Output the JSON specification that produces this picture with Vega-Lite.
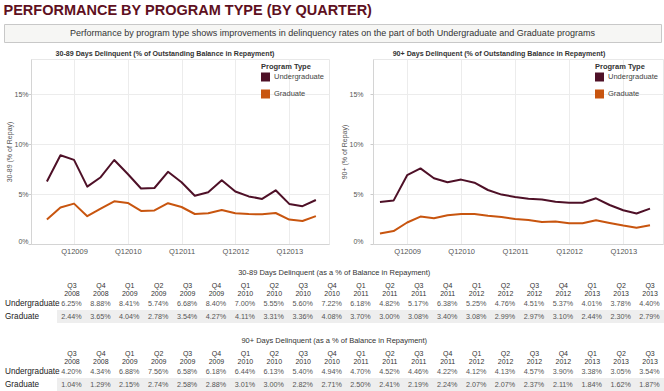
{
 "$schema": "https://vega.github.io/schema/vega-lite/v6.json",
 "padding": {"left": 3, "top": 3, "right": 0, "bottom": 0},
 "background": "white",
 "title": {"text": "PERFORMANCE BY PROGRAM TYPE (BY QUARTER)", "anchor": "start", "fontSize": 14.5, "fontWeight": "bold", "color": "#5e1021", "offset": 5},
 "datasets": {
  "d": [
   {"m":"30-89","p":"Undergraduate","d":"2008-07-01","q":"Q3 2008","v":0.0625},
   {"m":"30-89","p":"Undergraduate","d":"2008-10-01","q":"Q4 2008","v":0.0888},
   {"m":"30-89","p":"Undergraduate","d":"2009-01-01","q":"Q1 2009","v":0.0841},
   {"m":"30-89","p":"Undergraduate","d":"2009-04-01","q":"Q2 2009","v":0.0574},
   {"m":"30-89","p":"Undergraduate","d":"2009-07-01","q":"Q3 2009","v":0.0668},
   {"m":"30-89","p":"Undergraduate","d":"2009-10-01","q":"Q4 2009","v":0.0840},
   {"m":"30-89","p":"Undergraduate","d":"2010-01-01","q":"Q1 2010","v":0.0700},
   {"m":"30-89","p":"Undergraduate","d":"2010-04-01","q":"Q2 2010","v":0.0555},
   {"m":"30-89","p":"Undergraduate","d":"2010-07-01","q":"Q3 2010","v":0.0560},
   {"m":"30-89","p":"Undergraduate","d":"2010-10-01","q":"Q4 2010","v":0.0722},
   {"m":"30-89","p":"Undergraduate","d":"2011-01-01","q":"Q1 2011","v":0.0618},
   {"m":"30-89","p":"Undergraduate","d":"2011-04-01","q":"Q2 2011","v":0.0482},
   {"m":"30-89","p":"Undergraduate","d":"2011-07-01","q":"Q3 2011","v":0.0517},
   {"m":"30-89","p":"Undergraduate","d":"2011-10-01","q":"Q4 2011","v":0.0638},
   {"m":"30-89","p":"Undergraduate","d":"2012-01-01","q":"Q1 2012","v":0.0525},
   {"m":"30-89","p":"Undergraduate","d":"2012-04-01","q":"Q2 2012","v":0.0476},
   {"m":"30-89","p":"Undergraduate","d":"2012-07-01","q":"Q3 2012","v":0.0451},
   {"m":"30-89","p":"Undergraduate","d":"2012-10-01","q":"Q4 2012","v":0.0537},
   {"m":"30-89","p":"Undergraduate","d":"2013-01-01","q":"Q1 2013","v":0.0401},
   {"m":"30-89","p":"Undergraduate","d":"2013-04-01","q":"Q2 2013","v":0.0378},
   {"m":"30-89","p":"Undergraduate","d":"2013-07-01","q":"Q3 2013","v":0.0440},
   {"m":"30-89","p":"Graduate","d":"2008-07-01","q":"Q3 2008","v":0.0244},
   {"m":"30-89","p":"Graduate","d":"2008-10-01","q":"Q4 2008","v":0.0365},
   {"m":"30-89","p":"Graduate","d":"2009-01-01","q":"Q1 2009","v":0.0404},
   {"m":"30-89","p":"Graduate","d":"2009-04-01","q":"Q2 2009","v":0.0278},
   {"m":"30-89","p":"Graduate","d":"2009-07-01","q":"Q3 2009","v":0.0354},
   {"m":"30-89","p":"Graduate","d":"2009-10-01","q":"Q4 2009","v":0.0427},
   {"m":"30-89","p":"Graduate","d":"2010-01-01","q":"Q1 2010","v":0.0411},
   {"m":"30-89","p":"Graduate","d":"2010-04-01","q":"Q2 2010","v":0.0331},
   {"m":"30-89","p":"Graduate","d":"2010-07-01","q":"Q3 2010","v":0.0336},
   {"m":"30-89","p":"Graduate","d":"2010-10-01","q":"Q4 2010","v":0.0408},
   {"m":"30-89","p":"Graduate","d":"2011-01-01","q":"Q1 2011","v":0.0370},
   {"m":"30-89","p":"Graduate","d":"2011-04-01","q":"Q2 2011","v":0.0300},
   {"m":"30-89","p":"Graduate","d":"2011-07-01","q":"Q3 2011","v":0.0308},
   {"m":"30-89","p":"Graduate","d":"2011-10-01","q":"Q4 2011","v":0.0340},
   {"m":"30-89","p":"Graduate","d":"2012-01-01","q":"Q1 2012","v":0.0308},
   {"m":"30-89","p":"Graduate","d":"2012-04-01","q":"Q2 2012","v":0.0299},
   {"m":"30-89","p":"Graduate","d":"2012-07-01","q":"Q3 2012","v":0.0297},
   {"m":"30-89","p":"Graduate","d":"2012-10-01","q":"Q4 2012","v":0.0310},
   {"m":"30-89","p":"Graduate","d":"2013-01-01","q":"Q1 2013","v":0.0244},
   {"m":"30-89","p":"Graduate","d":"2013-04-01","q":"Q2 2013","v":0.0230},
   {"m":"30-89","p":"Graduate","d":"2013-07-01","q":"Q3 2013","v":0.0279},
   {"m":"90+","p":"Undergraduate","d":"2008-07-01","q":"Q3 2008","v":0.0420},
   {"m":"90+","p":"Undergraduate","d":"2008-10-01","q":"Q4 2008","v":0.0434},
   {"m":"90+","p":"Undergraduate","d":"2009-01-01","q":"Q1 2009","v":0.0688},
   {"m":"90+","p":"Undergraduate","d":"2009-04-01","q":"Q2 2009","v":0.0756},
   {"m":"90+","p":"Undergraduate","d":"2009-07-01","q":"Q3 2009","v":0.0658},
   {"m":"90+","p":"Undergraduate","d":"2009-10-01","q":"Q4 2009","v":0.0618},
   {"m":"90+","p":"Undergraduate","d":"2010-01-01","q":"Q1 2010","v":0.0644},
   {"m":"90+","p":"Undergraduate","d":"2010-04-01","q":"Q2 2010","v":0.0613},
   {"m":"90+","p":"Undergraduate","d":"2010-07-01","q":"Q3 2010","v":0.0540},
   {"m":"90+","p":"Undergraduate","d":"2010-10-01","q":"Q4 2010","v":0.0494},
   {"m":"90+","p":"Undergraduate","d":"2011-01-01","q":"Q1 2011","v":0.0470},
   {"m":"90+","p":"Undergraduate","d":"2011-04-01","q":"Q2 2011","v":0.0452},
   {"m":"90+","p":"Undergraduate","d":"2011-07-01","q":"Q3 2011","v":0.0446},
   {"m":"90+","p":"Undergraduate","d":"2011-10-01","q":"Q4 2011","v":0.0422},
   {"m":"90+","p":"Undergraduate","d":"2012-01-01","q":"Q1 2012","v":0.0412},
   {"m":"90+","p":"Undergraduate","d":"2012-04-01","q":"Q2 2012","v":0.0413},
   {"m":"90+","p":"Undergraduate","d":"2012-07-01","q":"Q3 2012","v":0.0457},
   {"m":"90+","p":"Undergraduate","d":"2012-10-01","q":"Q4 2012","v":0.0390},
   {"m":"90+","p":"Undergraduate","d":"2013-01-01","q":"Q1 2013","v":0.0338},
   {"m":"90+","p":"Undergraduate","d":"2013-04-01","q":"Q2 2013","v":0.0305},
   {"m":"90+","p":"Undergraduate","d":"2013-07-01","q":"Q3 2013","v":0.0354},
   {"m":"90+","p":"Graduate","d":"2008-07-01","q":"Q3 2008","v":0.0104},
   {"m":"90+","p":"Graduate","d":"2008-10-01","q":"Q4 2008","v":0.0129},
   {"m":"90+","p":"Graduate","d":"2009-01-01","q":"Q1 2009","v":0.0215},
   {"m":"90+","p":"Graduate","d":"2009-04-01","q":"Q2 2009","v":0.0274},
   {"m":"90+","p":"Graduate","d":"2009-07-01","q":"Q3 2009","v":0.0258},
   {"m":"90+","p":"Graduate","d":"2009-10-01","q":"Q4 2009","v":0.0288},
   {"m":"90+","p":"Graduate","d":"2010-01-01","q":"Q1 2010","v":0.0301},
   {"m":"90+","p":"Graduate","d":"2010-04-01","q":"Q2 2010","v":0.0300},
   {"m":"90+","p":"Graduate","d":"2010-07-01","q":"Q3 2010","v":0.0282},
   {"m":"90+","p":"Graduate","d":"2010-10-01","q":"Q4 2010","v":0.0271},
   {"m":"90+","p":"Graduate","d":"2011-01-01","q":"Q1 2011","v":0.0250},
   {"m":"90+","p":"Graduate","d":"2011-04-01","q":"Q2 2011","v":0.0241},
   {"m":"90+","p":"Graduate","d":"2011-07-01","q":"Q3 2011","v":0.0219},
   {"m":"90+","p":"Graduate","d":"2011-10-01","q":"Q4 2011","v":0.0224},
   {"m":"90+","p":"Graduate","d":"2012-01-01","q":"Q1 2012","v":0.0207},
   {"m":"90+","p":"Graduate","d":"2012-04-01","q":"Q2 2012","v":0.0207},
   {"m":"90+","p":"Graduate","d":"2012-07-01","q":"Q3 2012","v":0.0237},
   {"m":"90+","p":"Graduate","d":"2012-10-01","q":"Q4 2012","v":0.0211},
   {"m":"90+","p":"Graduate","d":"2013-01-01","q":"Q1 2013","v":0.0184},
   {"m":"90+","p":"Graduate","d":"2013-04-01","q":"Q2 2013","v":0.0162},
   {"m":"90+","p":"Graduate","d":"2013-07-01","q":"Q3 2013","v":0.0187}
  ]
 },
 "spacing": 6,
 "resolve": {"scale": {"x": "independent", "y": "independent", "color": "independent"}, "legend": {"color": "independent"}},
 "vconcat": [
  {
   "width": 657, "height": 18,
   "view": {"fill": "#f6f6f4", "stroke": "#c8c8c8"},
   "data": {"values": [{"t": "Performance by program type shows improvements in delinquency rates on the part of both Undergraduate and Graduate programs"}]},
   "mark": {"type": "text", "fontSize": 9, "color": "#333"},
   "encoding": {"text": {"field": "t", "type": "nominal"}}
  },
  {
   "spacing": 14,
   "resolve": {"scale": {"x": "independent", "y": "independent", "color": "independent"}, "legend": {"color": "independent"}},
   "vconcat": [
    {
     "spacing": 0,
     "resolve": {"scale": {"x": "independent", "y": "independent", "color": "independent"}, "legend": {"color": "independent"}},
     "hconcat": [
      {"width": 1, "height": 1, "data": {"values": [{}]}, "mark": {"type": "point", "size": 0, "opacity": 0}},
      {
       "spacing": 10,
       "resolve": {"scale": {"x": "independent", "y": "independent", "color": "independent"}, "legend": {"color": "independent"}},
       "hconcat": [
        {
         "width": 298, "height": 185,
         "data": {"name": "d"},
         "transform": [{"filter": "datum.m == '30-89'"}],
         "title": {"text": "30-89 Days Delinquent (% of Outstanding Balance in Repayment)", "anchor": "middle", "dx": -15, "fontSize": 7.1, "fontWeight": "bold", "color": "#333", "offset": 2},
         "view": {"stroke": "#e8e8e8"},
         "mark": {"type": "line", "strokeWidth": 2, "strokeJoin": "round"},
         "encoding": {
          "x": {"field": "d", "type": "temporal", "title": null,
           "scale": {"type": "utc", "domain": [{"year": 2008, "month": 3, "date": 15, "utc": true}, {"year": 2013, "month": 9, "date": 28, "utc": true}]},
           "axis": {"values": [{"year": 2009, "month": 1, "date": 1, "utc": true}, {"year": 2010, "month": 1, "date": 1, "utc": true}, {"year": 2011, "month": 1, "date": 1, "utc": true}, {"year": 2012, "month": 1, "date": 1, "utc": true}, {"year": 2013, "month": 1, "date": 1, "utc": true}],
            "labelExpr": "'Q1' + utcFormat(datum.value, '%Y')", "ticks": false, "grid": true, "gridColor": "#ececec", "domainColor": "#d4d4d4", "labelFontSize": 7.5, "labelColor": "#555", "labelPadding": 3, "labelFlush": false}},
          "y": {"field": "v", "type": "quantitative", "title": "30-89 (% of Repay)",
           "scale": {"domain": [0, 0.185], "nice": false},
           "axis": {"values": [0, 0.05, 0.1, 0.15], "format": ".0%", "labelFlush": true, "titleFontSize": 7, "titleFontWeight": "normal", "titleColor": "#555", "titlePadding": 1, "labelFontSize": 7, "labelColor": "#555", "labelPadding": 0, "tickSize": 3, "tickColor": "#cccccc", "domainColor": "#d4d4d4", "gridColor": "#ececec"}},
          "color": {"field": "p", "type": "nominal", "scale": {"domain": ["Undergraduate", "Graduate"], "range": ["#4e1027", "#c8550f"]},
           "legend": {"title": "Program Type", "orient": "top-right", "offset": 4, "padding": 0, "titleFontSize": 7.5, "titleFontWeight": "bold", "titleColor": "#333", "titlePadding": 2, "labelFontSize": 7.5, "labelColor": "#444", "symbolType": "square", "symbolSize": 16, "symbolStrokeWidth": 5, "rowPadding": -20, "labelOffset": 4}}
         }
        },
        {
         "width": 290, "height": 185,
         "data": {"name": "d"},
         "transform": [{"filter": "datum.m == '90+'"}],
         "title": {"text": "90+ Days Delinquent (% of Outstanding Balance in Repayment)", "anchor": "middle", "dx": -19, "fontSize": 7.1, "fontWeight": "bold", "color": "#333", "offset": 2},
         "view": {"stroke": "#e8e8e8"},
         "mark": {"type": "line", "strokeWidth": 2, "strokeJoin": "round"},
         "encoding": {
          "x": {"field": "d", "type": "temporal", "title": null,
           "scale": {"type": "utc", "domain": [{"year": 2008, "month": 5, "date": 15, "utc": true}, {"year": 2013, "month": 9, "date": 27, "utc": true}]},
           "axis": {"values": [{"year": 2009, "month": 1, "date": 1, "utc": true}, {"year": 2010, "month": 1, "date": 1, "utc": true}, {"year": 2011, "month": 1, "date": 1, "utc": true}, {"year": 2012, "month": 1, "date": 1, "utc": true}, {"year": 2013, "month": 1, "date": 1, "utc": true}],
            "labelExpr": "'Q1' + utcFormat(datum.value, '%Y')", "ticks": false, "grid": true, "gridColor": "#ececec", "domainColor": "#d4d4d4", "labelFontSize": 7.5, "labelColor": "#555", "labelPadding": 3, "labelFlush": false}},
          "y": {"field": "v", "type": "quantitative", "title": "90+ (% of Repay)",
           "scale": {"domain": [0, 0.185], "nice": false},
           "axis": {"values": [0, 0.05, 0.1, 0.15], "format": ".0%", "labelFlush": true, "titleFontSize": 7, "titleFontWeight": "normal", "titleColor": "#555", "titlePadding": 1, "labelFontSize": 7, "labelColor": "#555", "labelPadding": 7, "tickSize": 3, "tickColor": "#cccccc", "domainColor": "#d4d4d4", "gridColor": "#ececec"}},
          "color": {"field": "p", "type": "nominal", "scale": {"domain": ["Undergraduate", "Graduate"], "range": ["#4e1027", "#c8550f"]},
           "legend": {"title": "Program Type", "orient": "top-right", "offset": 4, "padding": 0, "titleFontSize": 7.5, "titleFontWeight": "bold", "titleColor": "#333", "titlePadding": 2, "labelFontSize": 7.5, "labelColor": "#444", "symbolType": "square", "symbolSize": 16, "symbolStrokeWidth": 5, "rowPadding": -20, "labelOffset": 4}}
         }
        }
       ]
      }
     ]
    },
    {
     "spacing": -1,
     "hconcat": [
      {"width": 1, "height": 1, "data": {"values": [{}]}, "mark": {"type": "point", "size": 0, "opacity": 0}},
      {
       "width": 607, "height": 26,
       "data": {"name": "d"},
       "transform": [{"filter": "datum.m == '30-89'"}],
       "title": {"text": "30-89 Days Delinquent (as a % of Balance in Repayment)", "frame": "bounds", "fontSize": 7.5, "fontWeight": "normal", "color": "#333", "offset": 5},
       "encoding": {
        "y": {"field": "p", "type": "nominal", "title": null,
         "scale": {"type": "band", "domain": ["Undergraduate", "Graduate"], "paddingInner": 0, "paddingOuter": 0},
         "axis": {"ticks": false, "domain": false, "labelAlign": "left", "labelPadding": 52.5, "labelFontSize": 8.2, "labelColor": "#222"}}
       },
       "layer": [
        {"transform": [{"filter": "datum.p == 'Graduate'"}], "mark": {"type": "rect", "color": "#eeeeee"}},
        {"mark": {"type": "text", "fontSize": 7.2, "color": "#555"},
         "encoding": {
          "x": {"field": "q", "type": "nominal", "sort": null, "title": null,
           "axis": {"orient": "top", "labelAngle": 0, "labelExpr": "split(datum.label, ' ')", "ticks": false, "domain": false, "labelFontSize": 7, "labelColor": "#333", "labelLineHeight": 7.5, "labelPadding": 8.5}},
          "text": {"field": "v", "type": "quantitative", "format": ".2%"}
         }}
       ]
      }
     ]
    },
    {
     "spacing": -1,
     "hconcat": [
      {"width": 1, "height": 1, "data": {"values": [{}]}, "mark": {"type": "point", "size": 0, "opacity": 0}},
      {
       "width": 607, "height": 26,
       "data": {"name": "d"},
       "transform": [{"filter": "datum.m == '90+'"}],
       "title": {"text": "90+ Days Delinquent (as a % of Balance in Repayment)", "frame": "bounds", "fontSize": 7.5, "fontWeight": "normal", "color": "#333", "offset": 5},
       "encoding": {
        "y": {"field": "p", "type": "nominal", "title": null,
         "scale": {"type": "band", "domain": ["Undergraduate", "Graduate"], "paddingInner": 0, "paddingOuter": 0},
         "axis": {"ticks": false, "domain": false, "labelAlign": "left", "labelPadding": 52.5, "labelFontSize": 8.2, "labelColor": "#222"}}
       },
       "layer": [
        {"transform": [{"filter": "datum.p == 'Graduate'"}], "mark": {"type": "rect", "color": "#eeeeee"}},
        {"mark": {"type": "text", "fontSize": 7.2, "color": "#555"},
         "encoding": {
          "x": {"field": "q", "type": "nominal", "sort": null, "title": null,
           "axis": {"orient": "top", "labelAngle": 0, "labelExpr": "split(datum.label, ' ')", "ticks": false, "domain": false, "labelFontSize": 7, "labelColor": "#333", "labelLineHeight": 7.5, "labelPadding": 8.5}},
          "text": {"field": "v", "type": "quantitative", "format": ".2%"}
         }}
       ]
      }
     ]
    }
   ]
  }
 ],
 "config": {"font": "Liberation Sans", "view": {"stroke": null}}
}
